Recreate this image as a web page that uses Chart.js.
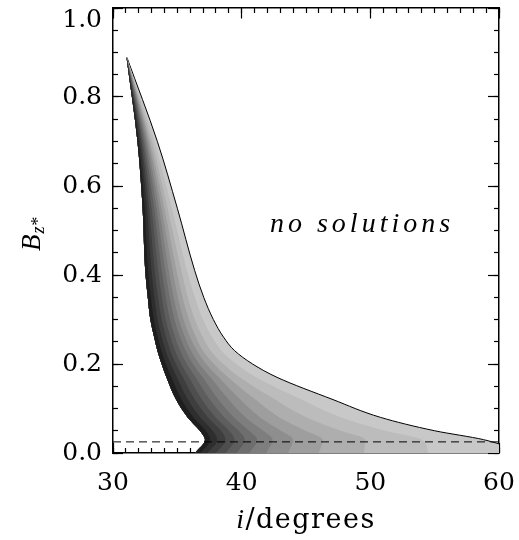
<!DOCTYPE html>
<html>
<head>
<meta charset="utf-8">
<script src="https://cdn.jsdelivr.net/npm/chart.js@4.4.1/dist/chart.umd.min.js"></script>
<style>
    html, body { margin: 0; padding: 0; background: #fff; }
</style>
</head>
<body>
<canvas id="chart" width="519" height="540"></canvas>
<script>
// B_z* values at which every contour is sampled (bottom to top)
const bLevels = [0, 0.03, 0.05, 0.08, 0.12, 0.17, 0.20, 0.23, 0.26, 0.30, 0.35, 0.41, 0.55, 0.70, 0.889];

// inclination i (degrees) of the left edge of the solution region
const leftEdge = [36.37, 37.15, 36.75, 35.8, 34.9, 34.15, 33.78, 33.45, 33.2, 32.9, 32.7, 32.5, 32.3, 31.9, 31.05];

// contour lines, darkest band first; the last one is the outer edge
const contour1  = [36.8, 37.55, 37.21, 36.25, 35.33, 34.54, 34.11, 33.76, 33.48, 33.17, 32.95, 32.73, 32.46, 31.99, 31.06];
const contour2  = [37.35, 38.1, 37.75, 36.78, 35.82, 34.96, 34.49, 34.09, 33.79, 33.46, 33.22, 32.99, 32.64, 32.09, 31.06];
const contour3  = [38.0, 38.75, 38.39, 37.38, 36.36, 35.43, 34.89, 34.46, 34.13, 33.78, 33.5, 33.24, 32.81, 32.2, 31.06];
const contour4  = [38.75, 39.45, 39.03, 37.98, 36.91, 35.9, 35.3, 34.82, 34.47, 34.09, 33.8, 33.51, 33.0, 32.3, 31.06];
const contour5  = [39.6, 40.25, 39.76, 38.65, 37.52, 36.42, 35.74, 35.22, 34.83, 34.43, 34.1, 33.79, 33.19, 32.41, 31.07];
const contour6  = [40.6, 41.2, 40.58, 39.4, 38.19, 36.97, 36.22, 35.65, 35.21, 34.78, 34.41, 34.06, 33.38, 32.52, 31.07];
const contour7  = [41.9, 42.4, 41.68, 40.3, 38.99, 37.57, 36.71, 36.07, 35.59, 35.12, 34.71, 34.33, 33.57, 32.63, 31.07];
const contour8  = [43.6, 44.0, 43.05, 41.43, 39.9, 38.21, 37.24, 36.53, 35.99, 35.48, 35.04, 34.63, 33.77, 32.75, 31.07];
const contour9  = [46.0, 46.3, 44.96, 42.93, 41.06, 38.94, 37.85, 36.99, 36.45, 35.9, 35.4, 34.94, 33.99, 32.87, 31.07];
const contour10 = [49.5, 49.6, 47.7, 45.03, 42.59, 39.84, 38.57, 37.59, 36.98, 36.36, 35.81, 35.31, 34.24, 33.02, 31.08];
const contour11 = [54.5, 54.0, 51.17, 47.73, 44.66, 41.12, 39.59, 38.43, 37.71, 36.99, 36.36, 35.75, 34.58, 33.21, 31.08];
const outerEdge = [62.0, 58.8, 55.0, 50.8, 47.1, 42.75, 40.85, 39.45, 38.6, 37.8, 37.05, 36.35, 35.0, 33.45, 31.08];

const contours = [contour1, contour2, contour3, contour4, contour5, contour6,
                  contour7, contour8, contour9, contour10, contour11, outerEdge];

const bandColours = ['#1e1e1e', '#2e2e2e', '#3e3e3e', '#4e4e4e', '#5e5e5e', '#6e6e6e',
                     '#7e7e7e', '#8e8e8e', '#9e9e9e', '#aeaeae', '#bcbcbc', '#c8c8c8'];

// dashed reference level and axis ranges
const dashLevel = 0.025;
const iRange = [30, 60];
const bRange = [0, 1];
const iTicks = [30, 40, 50, 60];
const bTicks = [0, 0.2, 0.4, 0.6, 0.8, 1.0];
const noteAt = [49.2, 0.497];

const toPoints = vals => vals.map((v, k) => ({ x: v, y: bLevels[k] }));

const datasets = [];
// dashed line on top of everything
datasets.push({
    data: [{ x: iRange[0], y: dashLevel }, { x: iRange[1], y: dashLevel }],
    borderColor: '#000',
    borderWidth: 1,
    borderDash: [8, 5],
    cubicInterpolationMode: 'default',
    tension: 0,
    fill: false
});
// left edge, the common base of every band
datasets.push({
    data: toPoints(leftEdge),
    borderWidth: 0,
    fill: false
});
contours.forEach((c, k) => {
    datasets.push({
        data: toPoints(c),
        backgroundColor: bandColours[k],
        borderColor: '#000',
        borderWidth: k === contours.length - 1 ? 1 : 0,
        fill: 1
    });
});

// tick-mark only axes glued to the frame (ticks point inwards)
function tickAxis(axis, pos, step, len) {
    const range = axis === 'x' ? iRange : bRange;
    return {
        type: 'linear',
        axis: axis,
        position: pos,
        min: range[0],
        max: range[1],
        z: 2,
        ticks: { display: false, stepSize: step, maxTicksLimit: 200, autoSkip: false },
        grid: { drawOnChartArea: false, tickLength: len, tickColor: '#000', tickWidth: 1.2 },
        border: { display: false }
    };
}

const serif = 'DejaVu Serif';
const mathFont = 'Liberation Serif';

const labelPlugin = {
    id: 'labels',
    afterDraw(chart) {
        const { ctx, scales: { x, y } } = chart;
        ctx.save();
        ctx.fillStyle = '#000';

        // annotation
        ctx.font = 'italic 28px "' + mathFont + '"';
        ctx.letterSpacing = '4px';
        ctx.textAlign = 'center';
        ctx.textBaseline = 'alphabetic';
        ctx.fillText('no solutions', x.getPixelForValue(noteAt[0]) + 2, y.getPixelForValue(noteAt[1]));

        // x title: italic i, roman /degrees
        ctx.letterSpacing = '1.5px';
        ctx.textAlign = 'left';
        const fItal = 'italic 28px "' + mathFont + '"';
        const fRom = '27px "' + serif + '"';
        ctx.font = fItal;
        const wI = ctx.measureText('i').width;
        ctx.font = fRom;
        const wRest = ctx.measureText('/degrees').width;
        const cx = (x.left + x.right) / 2;
        const sx = cx - (wI + wRest) / 2;
        ctx.font = fItal;
        ctx.fillText('i', sx, 528);
        ctx.font = fRom;
        ctx.fillText('/degrees', sx + wI, 528);

        // y title: B with subscript z*
        ctx.letterSpacing = '0px';
        ctx.translate(40, 251);
        ctx.rotate(-Math.PI / 2);
        ctx.font = 'italic 27px "' + mathFont + '"';
        ctx.fillText('B', 0, 0);
        const wB = ctx.measureText('B').width;
        ctx.font = 'italic 18px "' + mathFont + '"';
        ctx.fillText('z*', wB + 1, 4);
        ctx.restore();
    }
};

new Chart(document.getElementById('chart'), {
    type: 'line',
    data: { datasets: datasets },
    options: {
        responsive: false,
        animation: false,
        indexAxis: 'y',
        layout: { padding: { top: 8, right: 20, bottom: 0, left: 0 } },
        elements: {
            point: { radius: 0 },
            line: { cubicInterpolationMode: 'monotone' }
        },
        plugins: { legend: { display: false }, tooltip: { enabled: false } },
        scales: {
            x: {
                type: 'linear',
                position: 'bottom',
                min: iRange[0],
                max: iRange[1],
                z: 2,
                afterBuildTicks: s => { s.ticks = iTicks.map(v => ({ value: v })); },
                ticks: { color: '#000', font: { family: serif, size: 25 }, padding: 15, maxRotation: 0 },
                grid: { drawOnChartArea: false, drawTicks: false },
                border: { display: true, color: '#000', width: 1.5 },
                afterFit: s => { s.height = 87; s.paddingLeft = 0; s.paddingRight = 0; }
            },
            y: {
                type: 'linear',
                position: 'left',
                min: bRange[0],
                max: bRange[1],
                z: 2,
                afterBuildTicks: s => { s.ticks = bTicks.map(v => ({ value: v })); },
                ticks: {
                    color: '#000',
                    font: { family: serif, size: 25, lineHeight: 1 },
                    padding: 11,
                    callback: v => (v === 1 ? ['', '1.0'] : v.toFixed(1))
                },
                grid: { drawOnChartArea: false, drawTicks: false },
                border: { display: true, color: '#000', width: 1.5 },
                afterFit: s => { s.width = 113; s.paddingTop = 0; s.paddingBottom = 0; }
            },
            xBotMajor: tickAxis('x', { y: 0 }, 10, -10),
            xBotMinor: tickAxis('x', { y: 0 }, 1, -5),
            xTopMajor: Object.assign(tickAxis('x', { y: 1 }, 10, 10), { border: { display: true, color: '#000', width: 1.5 } }),
            xTopMinor: tickAxis('x', { y: 1 }, 1, 5),
            yLeftMajor: tickAxis('y', { x: 30 }, 0.2, -10),
            yLeftMinor: tickAxis('y', { x: 30 }, 0.05, -5),
            yRightMajor: Object.assign(tickAxis('y', { x: 60 }, 0.2, 10), { border: { display: true, color: '#000', width: 1.5 } }),
            yRightMinor: tickAxis('y', { x: 60 }, 0.05, 5)
        }
    },
    plugins: [labelPlugin]
});
</script>
</body>
</html>
